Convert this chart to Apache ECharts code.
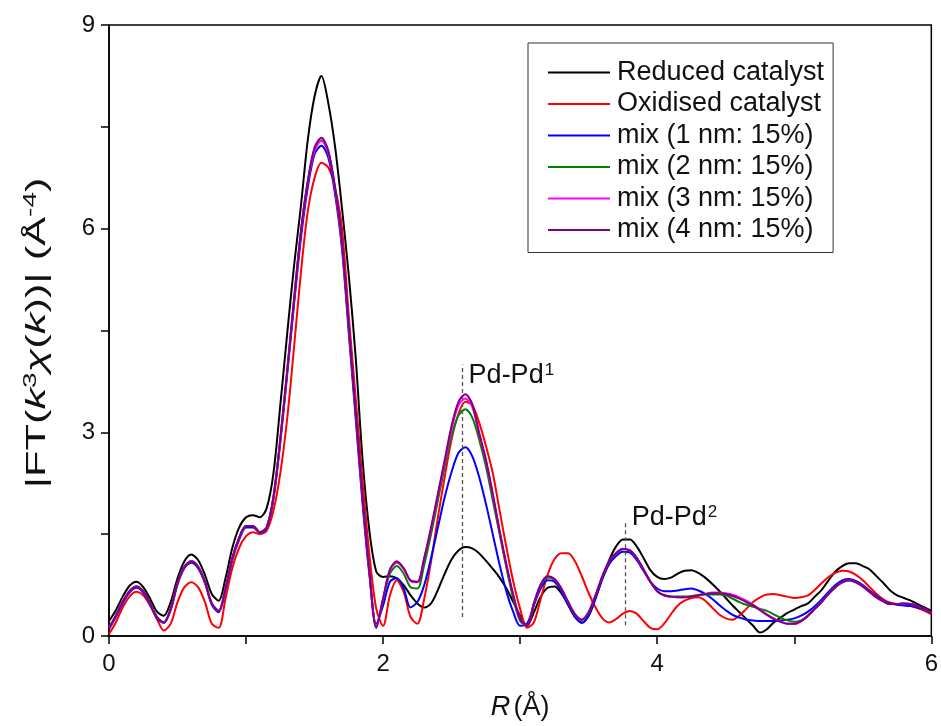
<!DOCTYPE html>
<html>
<head>
<meta charset="utf-8">
<script src="https://cdn.jsdelivr.net/npm/echarts@6/dist/echarts.min.js"></script>
<style>
  html, body { margin: 0; padding: 0; background: #fff; }
  #chart { width: 941px; height: 726px; }
</style>
</head>
<body>
<div id="chart"></div>
<script>
// Radial distance grid R (Å)
const rGrid = [
  0.00,0.05,0.10,0.15,0.20,0.25,0.30,0.35,0.40,0.45,0.50,0.55,0.60,0.65,0.70,0.75,0.80,0.85,0.90,0.95,
  1.00,1.05,1.10,1.15,1.20,1.25,1.30,1.35,1.40,1.45,1.50,1.55,1.60,1.65,1.70,1.75,1.80,1.85,1.90,1.95,
  2.00,2.05,2.10,2.15,2.20,2.25,2.30,2.35,2.40,2.45,2.50,2.55,2.60,2.65,2.70,2.75,2.80,2.85,2.90,2.95,
  3.00,3.05,3.10,3.15,3.20,3.25,3.30,3.35,3.40,3.45,3.50,3.55,3.60,3.65,3.70,3.75,3.80,3.85,3.90,3.95,
  4.00,4.05,4.10,4.15,4.20,4.25,4.30,4.35,4.40,4.45,4.50,4.55,4.60,4.65,4.70,4.75,4.80,4.85,4.90,4.95,
  5.00,5.05,5.10,5.15,5.20,5.25,5.30,5.35,5.40,5.45,5.50,5.55,5.60,5.65,5.70,5.75,5.80,5.85,5.90,5.95,
  6.00
];

// |FT(k^3 chi(k))| magnitudes, one value per R grid point
const reduced = [
  0.22,0.38,0.58,0.74,0.80,0.72,0.55,0.36,0.30,0.50,0.85,1.10,1.20,1.12,0.90,0.62,0.52,0.85,1.30,1.60,
  1.75,1.78,1.75,1.88,2.40,3.40,4.45,5.45,6.33,7.30,7.95,8.25,7.85,7.20,6.30,5.30,4.10,2.60,1.55,0.95,
  0.87,0.88,0.85,0.75,0.60,0.48,0.42,0.48,0.68,0.92,1.13,1.26,1.31,1.29,1.22,1.11,0.99,0.86,0.70,0.50,
  0.30,0.15,0.35,0.58,0.71,0.73,0.63,0.46,0.28,0.20,0.30,0.55,0.85,1.12,1.32,1.42,1.42,1.32,1.15,0.97,
  0.87,0.84,0.86,0.92,0.96,0.97,0.93,0.86,0.77,0.67,0.56,0.45,0.35,0.25,0.15,0.05,0.10,0.20,0.27,0.34,
  0.39,0.44,0.48,0.58,0.68,0.82,0.95,1.03,1.07,1.07,1.03,0.98,0.88,0.78,0.67,0.60,0.56,0.52,0.47,0.42,
  0.37
];
const oxidised = [
  0.03,0.20,0.42,0.58,0.65,0.60,0.45,0.25,0.08,0.18,0.50,0.72,0.79,0.72,0.50,0.18,0.12,0.55,1.00,1.30,
  1.47,1.53,1.50,1.55,1.85,2.40,3.20,4.25,5.35,6.25,6.75,6.97,6.90,6.60,6.00,4.70,3.50,2.30,1.20,0.40,
  0.15,0.60,0.82,0.65,0.28,0.18,0.55,1.10,1.75,2.35,2.90,3.27,3.45,3.40,3.15,2.80,2.40,1.85,1.30,0.80,
  0.40,0.12,0.20,0.55,0.90,1.13,1.22,1.22,1.10,0.88,0.63,0.42,0.26,0.20,0.25,0.33,0.37,0.33,0.22,0.12,
  0.10,0.18,0.32,0.45,0.52,0.56,0.57,0.52,0.42,0.32,0.26,0.24,0.30,0.40,0.50,0.57,0.61,0.62,0.60,0.58,
  0.56,0.57,0.60,0.68,0.78,0.87,0.93,0.96,0.95,0.90,0.82,0.72,0.62,0.54,0.49,0.47,0.46,0.44,0.41,0.37,
  0.32
];
const mix1nm = [
  0.10,0.28,0.48,0.64,0.71,0.64,0.46,0.26,0.19,0.38,0.76,1.00,1.08,1.00,0.78,0.46,0.35,0.68,1.12,1.42,
  1.60,1.60,1.52,1.58,2.02,2.85,3.85,4.88,5.85,6.60,7.10,7.22,7.05,6.50,5.70,4.45,3.20,1.95,0.90,0.18,
  0.45,0.80,0.85,0.70,0.42,0.50,0.75,1.15,1.60,2.05,2.42,2.70,2.78,2.65,2.35,1.95,1.50,1.05,0.65,0.35,
  0.15,0.18,0.45,0.70,0.82,0.80,0.66,0.46,0.28,0.19,0.30,0.56,0.84,1.06,1.18,1.24,1.23,1.12,0.96,0.80,
  0.70,0.66,0.66,0.67,0.69,0.70,0.67,0.62,0.55,0.46,0.38,0.31,0.27,0.24,0.23,0.22,0.22,0.22,0.23,0.24,
  0.26,0.30,0.36,0.44,0.54,0.65,0.75,0.82,0.84,0.81,0.75,0.67,0.59,0.52,0.48,0.46,0.45,0.44,0.42,0.39,
  0.34
];
const mix2nm = [
  0.12,0.30,0.50,0.66,0.73,0.66,0.48,0.28,0.20,0.40,0.78,1.02,1.10,1.02,0.80,0.48,0.37,0.70,1.15,1.45,
  1.62,1.62,1.53,1.60,2.05,2.90,3.90,4.95,5.95,6.68,7.17,7.30,7.12,6.58,5.78,4.55,3.30,2.05,0.95,0.14,
  0.55,0.92,1.03,0.92,0.72,0.70,1.05,1.50,2.00,2.50,2.95,3.25,3.34,3.22,2.90,2.50,2.00,1.50,1.00,0.55,
  0.22,0.15,0.47,0.74,0.86,0.83,0.70,0.50,0.32,0.24,0.35,0.60,0.88,1.10,1.22,1.28,1.26,1.15,0.98,0.80,
  0.66,0.60,0.58,0.58,0.58,0.59,0.60,0.61,0.61,0.61,0.60,0.55,0.50,0.46,0.43,0.40,0.37,0.32,0.27,0.23,
  0.21,0.23,0.30,0.40,0.50,0.62,0.72,0.79,0.82,0.79,0.73,0.65,0.57,0.51,0.47,0.47,0.48,0.47,0.44,0.40,
  0.34
];
const mix3nm = [
  0.12,0.30,0.50,0.66,0.73,0.66,0.48,0.28,0.20,0.40,0.78,1.02,1.10,1.02,0.80,0.48,0.37,0.70,1.15,1.45,
  1.62,1.62,1.53,1.60,2.05,2.90,3.90,4.95,5.95,6.68,7.15,7.30,7.12,6.58,5.78,4.55,3.30,2.05,0.95,0.12,
  0.55,0.97,1.08,0.99,0.81,0.79,1.14,1.58,2.07,2.56,3.05,3.40,3.50,3.38,2.98,2.58,2.08,1.54,1.04,0.60,
  0.25,0.15,0.48,0.76,0.88,0.84,0.70,0.50,0.32,0.24,0.35,0.60,0.88,1.10,1.22,1.28,1.26,1.15,0.98,0.80,
  0.66,0.60,0.58,0.57,0.57,0.58,0.60,0.62,0.64,0.64,0.63,0.61,0.57,0.52,0.46,0.39,0.32,0.26,0.21,0.18,
  0.18,0.22,0.30,0.40,0.50,0.62,0.72,0.79,0.82,0.79,0.73,0.65,0.57,0.51,0.47,0.47,0.48,0.47,0.44,0.40,
  0.34
];
const mix4nm = [
  0.12,0.30,0.50,0.66,0.73,0.66,0.48,0.28,0.20,0.40,0.78,1.02,1.10,1.02,0.80,0.48,0.37,0.70,1.15,1.45,
  1.62,1.62,1.53,1.60,2.05,2.90,3.90,4.95,5.95,6.70,7.20,7.34,7.15,6.60,5.80,4.55,3.30,2.05,0.95,0.12,
  0.55,0.98,1.10,1.00,0.82,0.80,1.15,1.60,2.10,2.60,3.10,3.45,3.56,3.42,3.00,2.60,2.10,1.55,1.05,0.60,
  0.25,0.15,0.48,0.76,0.88,0.84,0.70,0.50,0.32,0.24,0.35,0.60,0.88,1.10,1.22,1.28,1.26,1.15,0.98,0.80,
  0.66,0.60,0.58,0.57,0.57,0.58,0.60,0.62,0.63,0.63,0.62,0.59,0.55,0.50,0.45,0.38,0.31,0.25,0.21,0.18,
  0.18,0.22,0.30,0.40,0.50,0.62,0.72,0.79,0.82,0.79,0.73,0.65,0.57,0.51,0.47,0.47,0.48,0.47,0.44,0.40,
  0.34
];

const seriesNames = [
  'Reduced catalyst', 'Oxidised catalyst',
  'mix (1 nm: 15%)', 'mix (2 nm: 15%)', 'mix (3 nm: 15%)', 'mix (4 nm: 15%)'
];
const seriesValues = [reduced, oxidised, mix1nm, mix2nm, mix3nm, mix4nm];
const seriesColors = ['#000000', '#ff0000', '#0000ff', '#008000', '#ff00ff', '#800080'];

// Pd-Pd scattering paths: marker position R, dashed line extent, label anchor height
const pathLabels = ['1', '2'];
const pathR = [2.58, 3.77];
const pathLineBottom = [0.28, 0.16];
const pathLineTop = [4.0, 1.66];
const pathLabelY = [3.83, 1.74];

const FONT = '"Liberation Sans", Arial, Helvetica, sans-serif';

const curveSeries = seriesNames.map((name, i) => ({
  name: name,
  type: 'line',
  data: rGrid.map((r, j) => [r, seriesValues[i][j]]),
  smooth: 0.3,
  showSymbol: false,
  symbol: 'none',
  lineStyle: { color: seriesColors[i], width: 2 },
  itemStyle: { color: seriesColors[i] },
  z: 2 + i,
  silent: true
}));

const annotationSeries = {
  name: 'paths',
  type: 'line',
  data: [],
  silent: true,
  markLine: {
    symbol: ['none', 'none'],
    silent: true,
    label: { show: false },
    lineStyle: { color: '#555', type: [4, 3], width: 1.3 },
    data: pathR.map((r, i) => [
      { coord: [r, pathLineBottom[i]] },
      { coord: [r, pathLineTop[i]] }
    ])
  },
  markPoint: {
    symbol: 'circle',
    symbolSize: 0,
    silent: true,
    label: {
      show: true,
      position: 'right',
      distance: 6,
      color: '#111',
      fontFamily: FONT,
      rich: {
        a: { fontSize: 27, fontFamily: FONT, color: '#111' },
        s: { fontSize: 17, fontFamily: FONT, color: '#111', verticalAlign: 'top', padding: [0, 0, 12, 1] }
      }
    },
    data: pathR.map((r, i) => ({
      coord: [r, pathLabelY[i]],
      label: { formatter: '{a|Pd-Pd}{s|' + pathLabels[i] + '}' }
    }))
  }
};

const chart = echarts.init(document.getElementById('chart'), null, { renderer: 'canvas' });

chart.setOption({
  backgroundColor: '#ffffff',
  animation: false,
  grid: {
    left: 109, right: 9, top: 25, bottom: 89,
    show: true, borderColor: '#000', borderWidth: 1.5,
    backgroundColor: 'transparent'
  },
  legend: {
    data: seriesNames,
    orient: 'vertical',
    left: 528,
    top: 43,
    icon: 'rect',
    itemWidth: 62,
    itemHeight: 2,
    itemGap: 4.5,
    padding: [16, 9, 9, 20],
    borderColor: '#333',
    borderWidth: 1,
    backgroundColor: '#fff',
    selectedMode: false,
    textStyle: { fontSize: 27, fontFamily: FONT, color: '#111', padding: [0, 0, 0, 2] }
  },
  // Y-axis title: rotated, drawn slightly elongated along its reading direction
  graphic: [{
    type: 'text',
    x: 37,
    y: 333,
    rotation: Math.PI / 2,
    scaleX: 1.55,
    scaleY: 1,
    silent: true,
    style: {
      text: '{t||FT(}{i|k}{s|3}{i|χ}{t|(}{i|k}{t|))| (Å}{s|-4}{t|)}',
      align: 'center',
      verticalAlign: 'middle',
      fill: '#111',
      rich: {
        t: { fontSize: 28, fontFamily: FONT, fill: '#111' },
        i: { fontSize: 28, fontStyle: 'italic', fontFamily: FONT, fill: '#111' },
        s: { fontSize: 18, fontFamily: FONT, fill: '#111', verticalAlign: 'top', padding: [0, 0, 12, 0] }
      }
    }
  }],
  xAxis: {
    type: 'value',
    min: 0, max: 6, interval: 2,
    name: '{i|R} {t|(Å)}',
    nameLocation: 'middle',
    nameGap: 58,
    nameTextStyle: {
      rich: {
        i: { fontSize: 27, fontStyle: 'italic', fontFamily: FONT, color: '#111' },
        t: { fontSize: 27, fontFamily: FONT, color: '#111' }
      }
    },
    axisLine: { lineStyle: { color: '#000', width: 1.5 } },
    axisTick: { show: true, length: 8, lineStyle: { color: '#000', width: 1.5 } },
    minorTick: { show: true, splitNumber: 2, length: 8, lineStyle: { color: '#000', width: 1.5 } },
    axisLabel: { fontSize: 24, fontFamily: FONT, color: '#111', margin: 16 },
    splitLine: { show: false }
  },
  yAxis: {
    type: 'value',
    min: 0, max: 9, interval: 3,
    axisLine: { show: true, lineStyle: { color: '#000', width: 1.5 } },
    axisTick: { show: true, length: 8, lineStyle: { color: '#000', width: 1.5 } },
    minorTick: { show: true, splitNumber: 2, length: 8, lineStyle: { color: '#000', width: 1.5 } },
    axisLabel: { fontSize: 24, fontFamily: FONT, color: '#111', margin: 14 },
    splitLine: { show: false }
  },
  series: curveSeries.concat([annotationSeries])
});
</script>
</body>
</html>
